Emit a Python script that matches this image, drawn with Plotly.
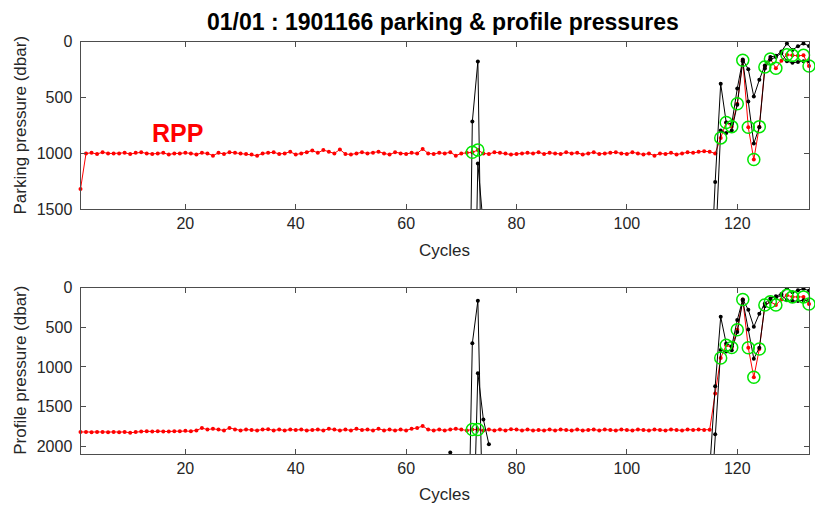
import plotly.graph_objects as go

# ---------------- data ----------------
cycles = list(range(1, 134))

park_rpp = [1320,
            1000, 995, 1005, 990, 1000, 1000, 1000, 995, 1005,
            995, 990, 1000, 1005, 1000, 995, 1010, 1000, 1000, 995,
            1000, 1010, 995, 1000, 1020, 995, 1005, 990, 995, 1000,
            1005, 1010, 1020, 1000, 995, 990, 1005, 1000, 985, 1010,
            1000, 990, 975, 995, 970, 985, 1000, 965, 1005, 1010,
            1000, 990, 1000, 995, 985, 1000, 1010, 990, 1000, 1005,
            995, 1000, 960, 1000, 1005, 995, 1000, 990, 1020, 1000,
            995, 990, 970, 1000, 1005, 990, 995, 1000, 1010, 1005,
            1000, 995, 1000, 990, 1005, 995, 1000, 1005, 990, 1000,
            995, 1010, 1000, 990, 1005, 1000, 995, 990, 1000, 1005,
            990, 1000, 1010, 1000, 1020, 1000, 1005, 995, 1010, 1000,
            990, 995, 985, 980, 985,
            1000, 861, 723, 760, 555, 165, 766, 1055, 760, 225,
            153, 237, 170, 116, 121, 125, 121, 217]

prof_rpp = [1820, 1820, 1825, 1820, 1820, 1825, 1820, 1825, 1820, 1830,
            1820, 1815, 1810, 1815, 1810, 1815, 1815, 1810, 1810, 1805,
            1810, 1800, 1770, 1790, 1780, 1790, 1800, 1770, 1790, 1800,
            1790, 1795, 1800, 1790, 1785, 1800, 1790, 1800, 1790, 1795,
            1790, 1800, 1795, 1790, 1800, 1780, 1790, 1800, 1790, 1800,
            1780, 1795, 1790, 1800, 1780, 1800, 1790, 1800, 1790, 1800,
            1780, 1770, 1745, 1790, 1800, 1790, 1800, 1790, 1780, 1790,
            1800, 1790, 1790, 1800, 1790, 1800, 1790, 1800, 1785, 1790,
            1800, 1790, 1800, 1795, 1800, 1790, 1800, 1790, 1795, 1800,
            1790, 1800, 1795, 1790, 1800, 1790, 1795, 1800, 1790, 1795,
            1800, 1790, 1795, 1800, 1790, 1795, 1800, 1790, 1795, 1800,
            1790, 1795, 1790, 1795, 1792,
            1334, 888, 726, 755, 531, 150, 759, 1131, 774, 219,
            180, 219, 150, 97, 118, 120, 118, 207]

# cycles flagged with green circles
flag_cycles = [72, 73, 117, 118, 119, 120, 121, 122, 123, 124, 125, 126, 127, 129, 130, 132, 133]

# black series (None = gap)
blk_a_cycles = [68, None, 71, 72, 73, 74, None,
                115, 116, 117, 118, 119, 120, 121, 122, 123, 124,
                125, 126, 127, 128, 129, 130, 131, 132, 133]
park_blk_a = [2080, None, 4200, 714, 176, 3300, None,
              2300, 1257, 376, 723, 737, 419, 159, 246, 491, 340,
              211, 136, 124, 87, 14, 72, 40, 14, 38]
prof_blk_a = [2080, None, 4200, 702, 167, 3300, None,
              2300, 1245, 369, 705, 740, 410, 150, 280, 495, 330,
              200, 138, 110, 80, 10, 60, 35, 15, 40]

blk_b_cycles = [72, 73, 74, 75, None,
                115, 116, 117, 118, 119, 120, 121, 122, 123, 124,
                125, 126, 127, 128, 129, 130, 131, 132, 133]
park_blk_b = [3630, 1090, 1663, 1975, None,
              3000, 1849, 795, 818, 795, 564, 173, 535, 911, 766,
              240, 159, 136, 100, 173, 188, 180, 173, 173]
prof_blk_b = [3630, 1079, 1663, 1975, None,
              3000, 1849, 787, 807, 790, 560, 165, 530, 896, 760,
              235, 175, 130, 95, 160, 170, 170, 160, 160]

x_ticks = [20, 40, 60, 80, 100, 120]
park_ticks = [0, 500, 1000, 1500]
prof_ticks = [0, 500, 1000, 1500, 2000]

# ---------------- styles ----------------
FONT = "Liberation Sans, Arial, sans-serif"
TXT = "#262626"
AX = "#4d4d4d"
RED = "#ff0000"
GREEN = "#00e600"

fig = go.Figure()


def add_panel(xa, ya, red_vals, blk_a_vals, blk_b_vals):
    fig.add_trace(go.Scatter(x=cycles, y=red_vals, mode="lines+markers",
                             line=dict(color=RED, width=1),
                             marker=dict(color=RED, size=4),
                             xaxis=xa, yaxis=ya, cliponaxis=False, showlegend=False))
    for cx, vals in ((blk_a_cycles, blk_a_vals), (blk_b_cycles, blk_b_vals)):
        fig.add_trace(go.Scatter(x=cx, y=vals, mode="lines+markers",
                                 line=dict(color="#000000", width=1),
                                 marker=dict(color="#000000", size=4),
                                 connectgaps=False,
                                 xaxis=xa, yaxis=ya, showlegend=False))
    fy = [red_vals[cycles.index(c)] for c in flag_cycles]
    fig.add_trace(go.Scatter(x=flag_cycles, y=fy, mode="markers",
                             marker=dict(symbol="circle-open", size=12,
                                         line=dict(color=GREEN, width=1.5), color=GREEN),
                             xaxis=xa, yaxis=ya, cliponaxis=False, showlegend=False))


add_panel("x", "y", park_rpp, park_blk_a, park_blk_b)
add_panel("x2", "y2", prof_rpp, prof_blk_a, prof_blk_b)

W, H = 815, 519
xd = [80.5 / W, 809 / W]
top_dom = [1 - 208 / H, 1 - 35 / H]
bot_dom = [1 - 461.3 / H, 1 - 289 / H]

axis_common = dict(showline=True, linecolor=AX, linewidth=1, mirror="ticks",
                   ticks="inside", ticklen=5, tickcolor=AX, showgrid=False,
                   zeroline=False, tickfont=dict(family=FONT, size=16, color=TXT))

fig.update_layout(
    width=W, height=H,
    margin=dict(l=0, r=0, t=0, b=0),
    paper_bgcolor="white", plot_bgcolor="white",
    xaxis=dict(domain=xd, anchor="y", range=[1, 133], tickvals=x_ticks, **axis_common),
    yaxis=dict(domain=top_dom, anchor="x", range=[1500, 0], tickvals=park_ticks,
               ticklabelstandoff=4, **axis_common),
    xaxis2=dict(domain=xd, anchor="y2", range=[1, 133], tickvals=x_ticks, **axis_common),
    yaxis2=dict(domain=bot_dom, anchor="x2", range=[2100, 0], tickvals=prof_ticks,
                ticklabelstandoff=4, **axis_common),
)

ann = [
    dict(text="<b>01/01 : 1901166 parking & profile pressures</b>", x=443 / W, y=1 - 14 / H,
         xref="paper", yref="paper", showarrow=False, xanchor="center", yanchor="middle",
         font=dict(family=FONT, size=23, color="#000000")),
    dict(text="Parking pressure (dbar)", x=21 / W, y=1 - 121.5 / H, textangle=-90,
         xref="paper", yref="paper", showarrow=False, xanchor="center", yanchor="middle",
         font=dict(family=FONT, size=17, color=TXT)),
    dict(text="Profile pressure (dbar)", x=21 / W, y=1 - 375 / H, textangle=-90,
         xref="paper", yref="paper", showarrow=False, xanchor="center", yanchor="middle",
         font=dict(family=FONT, size=17, color=TXT)),
    dict(text="Cycles", x=445 / W, y=1 - 251 / H,
         xref="paper", yref="paper", showarrow=False, xanchor="center", yanchor="middle",
         font=dict(family=FONT, size=17, color=TXT)),
    dict(text="Cycles", x=445 / W, y=1 - 503 / H,
         xref="paper", yref="paper", showarrow=False, xanchor="center", yanchor="middle",
         font=dict(family=FONT, size=17, color=TXT)),
    dict(text="<b>RPP</b>", x=18.6, y=820, xref="x", yref="y", showarrow=False,
         xanchor="center", yanchor="middle", font=dict(family=FONT, size=25, color=RED)),
]
fig.update_layout(annotations=ann)

fig.write_html("out.html")
